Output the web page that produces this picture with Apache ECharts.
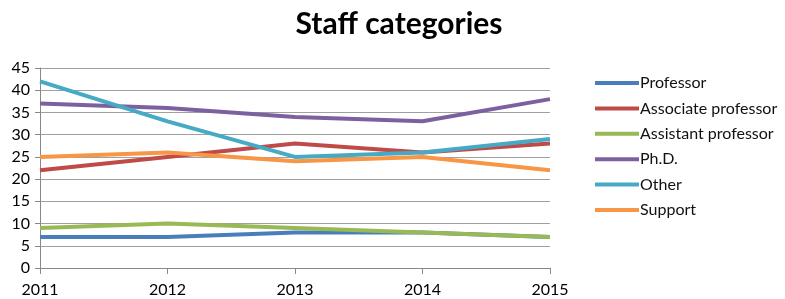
<!DOCTYPE html>
<html>
<head>
<meta charset="utf-8">
<script src="https://cdn.jsdelivr.net/npm/echarts@6/dist/echarts.min.js"></script>
<style>
  html, body { margin: 0; padding: 0; background: #fff; }
  #chart { width: 785px; height: 299px; }
</style>
</head>
<body>
<div id="chart"></div>
<script>
const years = ['2011', '2012', '2013', '2014', '2015'];
const professor = [7, 7, 8, 8, 7];
const associateProfessor = [22, 25, 28, 26, 28];
const assistantProfessor = [9, 10, 9, 8, 7];
const phd = [37, 36, 34, 33, 38];
const other = [42, 33, 25, 26, 29];
const support = [25, 26, 24, 25, 22];

const seriesDefs = [
  { name: 'Professor', data: professor, color: '#4a7ebb' },
  { name: 'Associate professor', data: associateProfessor, color: '#be4b48' },
  { name: 'Assistant professor', data: assistantProfessor, color: '#98b954' },
  { name: 'Ph.D.', data: phd, color: '#7d60a0' },
  { name: 'Other', data: other, color: '#46aac5' },
  { name: 'Support', data: support, color: '#f79646' }
];

const font = 'Lato, "Liberation Sans", sans-serif';

const chart = echarts.init(document.getElementById('chart'));
chart.setOption({
  animation: false,
  title: {
    text: 'Staff categories',
    left: 394,
    textAlign: 'center',
    top: 4,
    textStyle: { fontFamily: font, fontSize: 30, fontWeight: 'bold', color: '#000' }
  },
  legend: {
    orient: 'vertical',
    left: 590,
    top: 70,
    itemGap: 9.4,
    itemWidth: 44,
    itemHeight: 4,
    icon: 'rect',
    textStyle: { fontFamily: font, fontSize: 16, color: '#111', padding: [0, 0, 0, -4] },
    data: seriesDefs.map(s => s.name)
  },
  grid: { left: 40, right: 235, top: 68, bottom: 31, containLabel: false },
  xAxis: {
    type: 'category',
    data: years,
    boundaryGap: false,
    axisLine: { lineStyle: { color: '#888', width: 1 } },
    axisTick: { show: true, alignWithLabel: true, length: 6, lineStyle: { color: '#888' } },
    axisLabel: { fontFamily: font, fontSize: 16, color: '#000', margin: 14 },
    splitLine: { show: false }
  },
  yAxis: {
    type: 'value',
    min: 0,
    max: 45,
    interval: 5,
    axisLine: { show: true, lineStyle: { color: '#888', width: 1 } },
    axisTick: { show: true, length: 5, lineStyle: { color: '#888' } },
    axisLabel: { fontFamily: font, fontSize: 16, color: '#000', margin: 10 },
    splitLine: { show: true, lineStyle: { color: '#a0a0a0', width: 1 } }
  },
  series: seriesDefs.map(s => ({
    name: s.name,
    type: 'line',
    data: s.data,
    symbol: 'none',
    color: s.color,
    lineStyle: { width: 4, color: s.color }
  }))
});
</script>
</body>
</html>
